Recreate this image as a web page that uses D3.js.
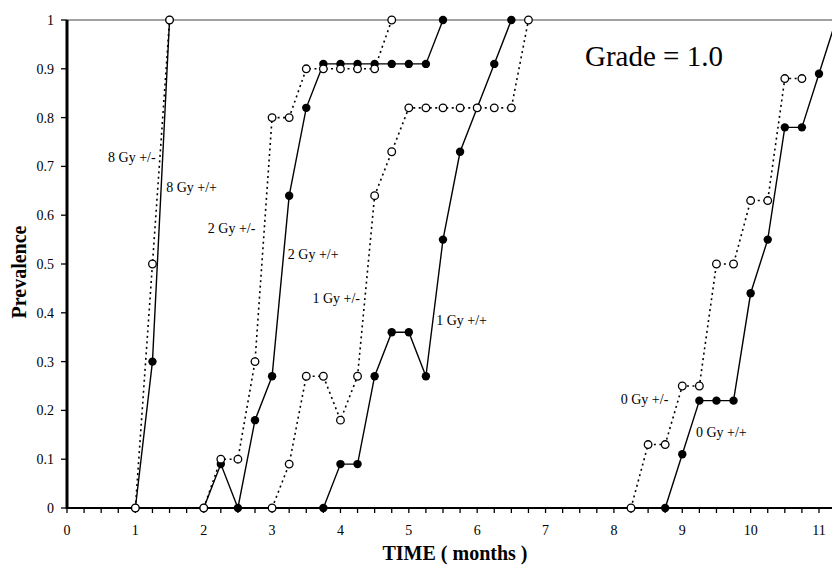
<!DOCTYPE html>
<html>
<head>
<meta charset="utf-8">
<script src="https://cdn.jsdelivr.net/npm/d3@7"></script>
<style>
body { margin: 0; background: #fff; }
svg text { font-family: "Liberation Serif", "Times New Roman", Times, "DejaVu Serif", serif; fill: #000; }
</style>
</head>
<body>
<div class="graph"></div>
<script>
// months sampled every quarter
var gy8pmX = [1, 1.25, 1.5]
var gy8pmY = [0, 0.5, 1]
var gy8ppX = [1, 1.25, 1.5]
var gy8ppY = [0, 0.3, 1]

var gy2pmX = [2, 2.25, 2.5, 2.75, 3, 3.25, 3.5, 3.75, 4, 4.25, 4.5, 4.75]
var gy2pmY = [0, 0.1, 0.1, 0.3, 0.8, 0.8, 0.9, 0.9, 0.9, 0.9, 0.9, 1]
var gy2ppX = [2, 2.25, 2.5, 2.75, 3, 3.25, 3.5, 3.75, 4, 4.25, 4.5, 4.75, 5, 5.25, 5.5]
var gy2ppY = [0, 0.09, 0, 0.18, 0.27, 0.64, 0.82, 0.91, 0.91, 0.91, 0.91, 0.91, 0.91, 0.91, 1]

var gy1pmX = [3, 3.25, 3.5, 3.75, 4, 4.25, 4.5, 4.75, 5, 5.25, 5.5, 5.75, 6, 6.25, 6.5, 6.75]
var gy1pmY = [0, 0.09, 0.27, 0.27, 0.18, 0.27, 0.64, 0.73, 0.82, 0.82, 0.82, 0.82, 0.82, 0.82, 0.82, 1]
var gy1ppX = [3.75, 4, 4.25, 4.5, 4.75, 5, 5.25, 5.5, 5.75, 6, 6.25, 6.5]
var gy1ppY = [0, 0.09, 0.09, 0.27, 0.36, 0.36, 0.27, 0.55, 0.73, 0.82, 0.91, 1]

var gy0pmX = [8.25, 8.5, 8.75, 9, 9.25, 9.5, 9.75, 10, 10.25, 10.5, 10.75]
var gy0pmY = [0, 0.13, 0.13, 0.25, 0.25, 0.5, 0.5, 0.63, 0.63, 0.88, 0.88]
var gy0ppX = [8.75, 9, 9.25, 9.5, 9.75, 10, 10.25, 10.5, 10.75, 11, 11.25]
var gy0ppY = [0, 0.11, 0.22, 0.22, 0.22, 0.44, 0.55, 0.78, 0.78, 0.89, 1]

var xTicks = d3.range(0, 12)
var yTicks = d3.range(0, 11).map(d => d/10)

// label text and where it sits, in months / prevalence
var labelText = ['8 Gy +/-', '8 Gy +/+', '2 Gy +/-', '2 Gy +/+', '1 Gy +/-', '1 Gy +/+', '0 Gy +/-', '0 Gy +/+']
var labelMonth = [0.6, 1.45, 2.06, 3.23, 3.59, 5.4, 8.1, 9.2]
var labelPrev = [0.708, 0.647, 0.563, 0.51, 0.42, 0.376, 0.213, 0.146]

var series = [
  {x: gy8ppX, y: gy8ppY, open: false},
  {x: gy2ppX, y: gy2ppY, open: false},
  {x: gy1ppX, y: gy1ppY, open: false},
  {x: gy0ppX, y: gy0ppY, open: false},
  {x: gy8pmX, y: gy8pmY, open: true},
  {x: gy2pmX, y: gy2pmY, open: true},
  {x: gy1pmX, y: gy1pmY, open: true},
  {x: gy0pmX, y: gy0pmY, open: true},
].map(s => ({open: s.open, pts: s.x.map((x, i) => ({x, y: s.y[i]}))}))

var width = 832, height = 566
var serif = '"Liberation Serif", "Times New Roman", Times, serif'

var svg = d3.select('.graph').append('svg')
  .attr('width', width)
  .attr('height', height)
  .attr('font-family', serif)

var x = d3.scaleLinear().domain([0, 11]).range([67, 819])
var y = d3.scaleLinear().domain([0, 1]).range([508, 20])

// top frame line
svg.append('line')
  .attr('x1', x(0)).attr('x2', width)
  .attr('y1', y(1)).attr('y2', y(1))
  .attr('stroke', '#444').attr('stroke-width', 1)

// x axis
var xAxis = svg.append('g').attr('transform', `translate(0,${y(0)})`)
xAxis.append('line')
  .attr('x1', x(0)).attr('x2', width)
  .attr('stroke', '#000').attr('stroke-width', 2)
xAxis.selectAll('line.tick')
  .data(d3.range(0, 45).map(d => d/4))
  .join('line')
  .attr('class', 'tick')
  .attr('x1', d => x(d)).attr('x2', d => x(d))
  .attr('y1', 0).attr('y2', 5)
  .attr('stroke', '#000').attr('stroke-width', 1.3)
xAxis.selectAll('text')
  .data(xTicks)
  .join('text')
  .attr('x', d => x(d))
  .attr('y', 27)
  .attr('text-anchor', 'middle')
  .style('font-family', serif)
  .style('font-size', '14px')
  .text(d => d)

// y axis
var yAxis = svg.append('g').attr('transform', `translate(${x(0)},0)`)
yAxis.append('line')
  .attr('y1', y(0) + 1).attr('y2', y(1))
  .attr('stroke', '#000').attr('stroke-width', 3)
yAxis.selectAll('line.tick')
  .data(yTicks)
  .join('line')
  .attr('class', 'tick')
  .attr('x1', -6).attr('x2', 0)
  .attr('y1', d => y(d)).attr('y2', d => y(d))
  .attr('stroke', '#000').attr('stroke-width', 1.3)
yAxis.selectAll('text')
  .data(yTicks)
  .join('text')
  .attr('x', -13)
  .attr('y', d => y(d))
  .attr('dy', '.35em')
  .attr('text-anchor', 'end')
  .style('font-family', serif)
  .style('font-size', '14px')
  .text(d => d3.format('')(d))

// axis titles
svg.append('text')
  .attr('transform', `translate(26,${(y(0) + y(1))/2 + 8}) rotate(-90)`)
  .attr('text-anchor', 'middle')
  .style('font-family', serif)
  .style('font-size', '20px')
  .style('font-weight', 'bold')
  .text('Prevalence')

svg.append('text')
  .attr('x', 455)
  .attr('y', 560)
  .attr('text-anchor', 'middle')
  .style('font-family', serif)
  .style('font-size', '20px')
  .style('font-weight', 'bold')
  .text('TIME ( months )')

// lines
var line = d3.line().x(d => x(d.x)).y(d => y(d.y))

svg.selectAll('path.series')
  .data(series)
  .join('path')
  .attr('class', 'series')
  .attr('d', d => line(d.pts))
  .attr('fill', 'none')
  .attr('stroke', '#000')
  .attr('stroke-width', d => d.open ? 1.6 : 1.4)
  .attr('stroke-dasharray', d => d.open ? '2,3.5' : null)

// markers
series.forEach(s => {
  svg.append('g').selectAll('circle')
    .data(s.pts)
    .join('circle')
    .attr('cx', d => x(d.x))
    .attr('cy', d => y(d.y))
    .attr('r', s.open ? 3.8 : 4.2)
    .attr('fill', s.open ? '#fff' : '#000')
    .attr('stroke', '#000')
    .attr('stroke-width', s.open ? 1.3 : 0)
})

// series labels
svg.selectAll('text.lbl')
  .data(labelText)
  .join('text')
  .attr('class', 'lbl')
  .attr('x', (d, i) => x(labelMonth[i]))
  .attr('y', (d, i) => y(labelPrev[i]))
  .style('font-family', serif)
  .style('font-size', '14px')
  .text(d => d)

svg.append('text')
  .attr('x', 585)
  .attr('y', 66)
  .style('font-family', serif)
  .style('font-size', '29px')
  .text('Grade = 1.0')
</script>
</body>
</html>
